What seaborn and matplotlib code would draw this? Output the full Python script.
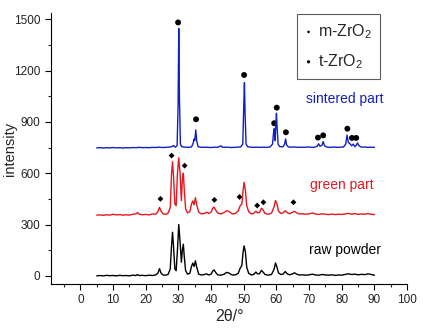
import matplotlib
matplotlib.use("Agg")
import matplotlib.pyplot as plt
import seaborn as sns
import pandas as pd
from matplotlib.ticker import MultipleLocator

# ---------------- data ----------------
raw_x = [5, 6, 7, 8, 9, 10, 11, 12, 13, 14, 15, 16, 17, 17.5, 18, 19, 20, 21, 22, 23, 23.7, 24.2, 24.7, 25.3, 26, 26.8,
         27.5, 27.9, 28.2, 28.5, 28.9, 29.3, 29.7, 30.1, 30.5, 30.9, 31.2, 31.5, 31.8, 32.2, 32.8, 33.5, 34.0, 34.4,
         34.8, 35.2, 35.6, 36.2, 37, 38, 38.6, 39.2, 40, 40.5, 40.9, 41.4, 42, 43, 44, 44.7, 45.3, 45.8, 46.5, 47.5,
         48.3, 48.9, 49.4, 49.8, 50.1, 50.5, 50.9, 51.5, 52.3, 53, 53.7, 54.2, 54.8, 55.4, 55.9, 56.5, 57.5, 58.5,
         59.3, 59.7, 60.1, 60.6, 61.3, 62, 62.7, 63.3, 64, 65, 65.5, 66.2, 67, 68, 69, 70, 71, 72, 73, 74, 75, 76,
         77, 78, 79, 80, 81, 82, 83, 84, 85, 86, 87, 88, 89, 90]
raw_y = [0, 2, 0, 3, 1, 2, 0, 3, 1, 2, 0, 4, 2, 8, 2, 3, 1, 4, 2, 5, 15, 42, 15, 5, 4, 8,
         40, 180, 255, 170, 40, 30, 150, 300, 200, 80, 150, 185, 110, 30, 10, 15, 55, 75,
         55, 88, 50, 10, 5, 8, 12, 5, 10, 28, 35, 20, 6, 4, 10, 20, 18, 12, 5, 6,
         15, 45, 60, 140, 175, 140, 50, 15, 5, 8, 22, 12, 12, 32, 22, 8, 4, 8,
         40, 75, 55, 18, 8, 10, 25, 12, 6, 12, 18, 10, 5, 6, 4, 6, 10, 5, 4, 8, 5, 4,
         6, 3, 5, 4, 8, 12, 8, 10, 6, 9, 7, 12, 8, 4]

green_x = raw_x
green_y = [355, 356, 354, 357, 355, 360, 356, 358, 355, 357, 355, 360, 362, 370, 360, 357, 359, 356, 362, 360, 375, 400,
           378, 362, 360, 365, 400, 600, 667, 580, 420, 410, 600, 690, 600, 440, 560, 600, 500, 390, 368, 375, 420,
           438, 415, 457, 415, 372, 362, 365, 372, 365, 372, 395, 402, 385, 367, 362, 370, 380, 378, 372, 362, 365,
           380, 410, 420, 500, 547, 500, 410, 375, 362, 365, 378, 368, 370, 395, 385, 365, 360, 367, 405, 440, 425,
           380, 365, 368, 380, 370, 363, 372, 377, 368, 362, 363, 360, 362, 368, 361, 359, 363, 360, 358, 361, 358,
           360, 359, 362, 365, 360, 364, 359, 362, 360, 364, 360, 358]

sint_x = [5, 6, 7, 8, 9, 10, 11, 12, 13, 14, 15, 16, 17, 18, 19, 20, 21, 22, 23, 24, 25, 26, 27, 28, 28.5, 29, 29.6,
          29.9, 30.1, 30.3, 30.6, 31, 32, 33, 34, 34.5, 34.8, 35.0, 35.3, 35.6, 36, 37, 38, 39, 40, 41, 42, 43, 43.5,
          44, 45, 46, 47, 48, 49, 49.7, 50.0, 50.2, 50.4, 50.7, 51.2, 52, 53, 54, 55, 56, 57, 58, 58.8, 59.2, 59.4,
          59.6, 59.8, 60.0, 60.2, 60.5, 61, 62, 62.5, 62.8, 63.1, 63.6, 64.5, 65.5, 66.5, 67.5, 68.5, 69.5, 70.5,
          71.5, 72.5, 72.9, 73.3, 73.9, 74.3, 74.7, 75.5, 76.5, 77.5, 78.5, 79.5, 80.5, 81.2, 81.6, 82.0, 82.5, 83.0,
          83.5, 84, 84.5, 84.8, 85.3, 86, 87, 88, 89, 90]
sint_y = [748, 749, 747, 749, 748, 750, 748, 749, 747, 749, 748, 750, 749, 751, 749, 750, 749, 751, 750, 752, 750, 751,
          752, 755, 762, 752, 760, 1000, 1446, 1050, 770, 755, 752, 751, 753, 775, 800, 790, 853, 790, 755, 751, 752,
          751, 750, 752, 751, 760, 752, 751, 752, 750, 751, 752, 753, 770, 1000, 1129, 950, 770, 755, 752, 751, 752,
          751, 752, 751, 753, 770, 855, 862, 790, 880, 950, 870, 770, 755, 754, 770, 800, 765, 754, 752, 753, 751,
          752, 751, 753, 752, 751, 758, 772, 758, 762, 785, 760, 752, 751, 753, 751, 752, 753, 770, 823, 780, 772,
          760, 770, 755, 765, 777, 760, 752, 753, 751, 752, 751]

# phase markers
m_x = [24.5, 27.9, 31.9, 41.0, 48.7, 54.1, 56.0, 65.2]
m_y = [450, 703, 644, 444, 461, 411, 430, 430]
t_x = [29.9, 35.4, 50.1, 59.3, 60.1, 62.9, 72.7, 74.3, 81.7, 83.1, 84.4]
t_y = [1481, 915, 1174, 892, 983, 839, 808, 821, 860, 806, 806]

samples = ["raw powder", "green part", "sintered part"]
colors = {"raw powder": "#000000", "green part": "#e8161e", "sintered part": "#1020c0"}
label_x = [81, 80, 81]
label_y = [152, 531, 1032]

df = pd.concat([
    pd.DataFrame({"x": raw_x, "y": raw_y, "sample": samples[0]}),
    pd.DataFrame({"x": green_x, "y": green_y, "sample": samples[1]}),
    pd.DataFrame({"x": sint_x, "y": sint_y, "sample": samples[2]}),
], ignore_index=True)

# ---------------- plotting ----------------
sns.set_style("ticks")
plt.rcParams["font.family"] = ["Liberation Sans", "DejaVu Sans"]
plt.rcParams["mathtext.fontset"] = "custom"
plt.rcParams["mathtext.rm"] = "Liberation Sans"

fig = plt.figure(figsize=(4.25, 3.34), dpi=100)
ax = fig.add_axes([0.12, 0.15, 0.838, 0.811])

sns.lineplot(data=df, x="x", y="y", hue="sample", palette=colors, sort=False,
             estimator=None, linewidth=1.0, legend=False, ax=ax)

sns.scatterplot(x=m_x, y=m_y, marker="D", s=9, color="black", edgecolor="none",
                label="m-ZrO$_2$", ax=ax)
sns.scatterplot(x=t_x, y=t_y, marker="o", s=18, color="black", edgecolor="none",
                label="t-ZrO$_2$", ax=ax)

for s, lx, ly in zip(samples, label_x, label_y):
    ax.text(lx, ly, s, color=colors[s], fontsize=10, ha="center", va="center")

ax.set_xlim(-9, 100)
ax.set_ylim(-47, 1536)
ax.xaxis.set_major_locator(MultipleLocator(10))
ax.xaxis.set_minor_locator(MultipleLocator(5))
ax.yaxis.set_major_locator(MultipleLocator(300))
ax.yaxis.set_minor_locator(MultipleLocator(150))
ax.tick_params(axis="both", which="major", direction="out", length=4, width=0.8,
               labelsize=8.5, colors="black", labelcolor="#222222")
ax.tick_params(axis="both", which="minor", direction="out", length=2.5, width=0.8)
ax.set_xlabel("2θ/°", fontsize=11.5, labelpad=2)
ax.set_ylabel("intensity", fontsize=10.5, labelpad=-2)
sns.despine(ax=ax)
for sp in ["left", "bottom"]:
    ax.spines[sp].set_linewidth(0.8)
    ax.spines[sp].set_color("black")

leg = ax.legend(loc="upper right", bbox_to_anchor=(0.924, 0.996), borderaxespad=0,
                frameon=True, fancybox=False, edgecolor="#333333", fontsize=11.5,
                handletextpad=0.4, labelspacing=0.7, borderpad=0.5, handlelength=0.4,
                markerscale=0.55)
leg.get_frame().set_linewidth(0.8)

fig.savefig("out.png", dpi=100, facecolor="white")
